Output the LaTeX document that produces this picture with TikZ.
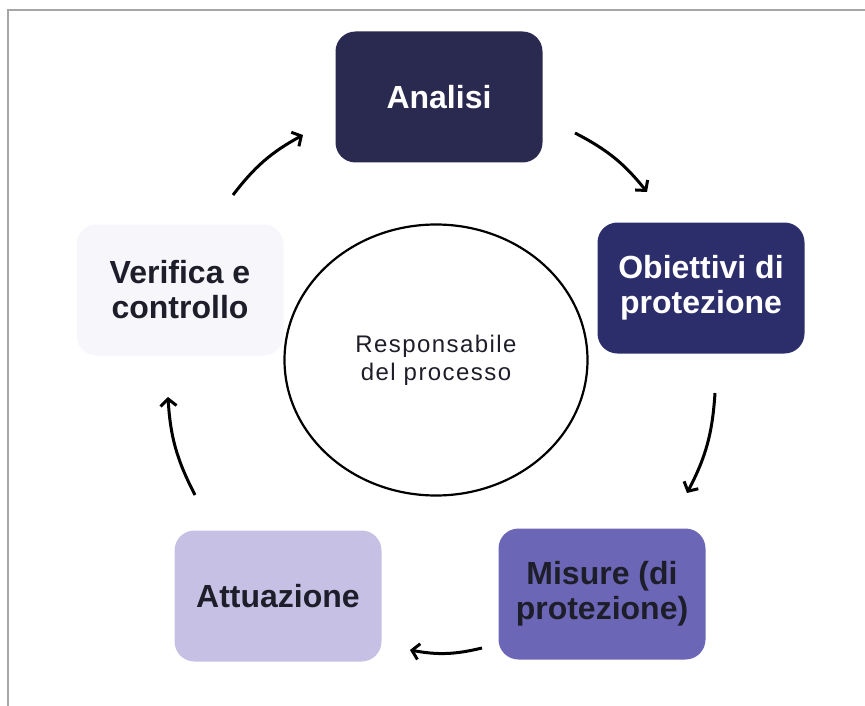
\documentclass[tikz,border=0pt]{standalone}
\usepackage{fontspec}
\setmainfont{Liberation Sans}
\newfontfamily\spacedfont[LetterSpace=6]{Liberation Sans}
\usetikzlibrary{arrows.meta,shapes.geometric}
\definecolor{analisiblue}{HTML}{2A2950}
\definecolor{obiettiviblue}{HTML}{2C2E6C}
\definecolor{misureblue}{HTML}{6B66B6}
\definecolor{attuazionelilac}{HTML}{C6C1E4}
\definecolor{verificagrey}{HTML}{F6F6FB}
\definecolor{boxtext}{HTML}{1E1E2A}
\begin{document}
\begin{tikzpicture}[x=1pt,y=-1pt,
    phase/.style={rounded corners=20pt,minimum width=207pt,minimum height=131pt,
      inner sep=0pt,align=center,font=\fontsize{32}{35}\selectfont\bfseries},
    cycle/.style={line width=3pt,-{Straight Barb[length=7pt,width=16pt]},bend left=12}]
  \useasboundingbox (0,0) rectangle (865,706);
  \draw[gray!70,line width=1.5pt] (8,706) -- (8,10) -- (865,10);
  \node[phase,fill=analisiblue,text=white] (analisi) at (439,97) {Analisi};
  \node[phase,fill=obiettiviblue,text=white] (obiettivi) at (701,288) {Obiettivi di\\protezione};
  \node[phase,fill=misureblue,text=boxtext] (misure) at (602,594) {Misure (di\\protezione)};
  \node[phase,fill=attuazionelilac,text=boxtext] (attuazione) at (278,596) {Attuazione};
  \node[phase,fill=verificagrey,text=boxtext] (verifica) at (180,290) {Verifica e\\controllo};
  \node[draw,ellipse,line width=2.2pt,minimum width=303pt,minimum height=271pt,
    align=center,text=boxtext,font=\spacedfont\fontsize{24}{28}\selectfont] (responsabile) at (436,360)
    {Responsabile\\del processo};
  \coordinate (verifica out) at (233,195);
  \coordinate (analisi in) at (303,135);
  \coordinate (analisi out) at (575,133);
  \coordinate (obiettivi in) at (647,192);
  \coordinate (obiettivi out) at (715,393);
  \coordinate (misure in) at (687,493);
  \coordinate (misure out) at (482,648);
  \coordinate (attuazione in) at (410,650);
  \coordinate (attuazione out) at (195,495);
  \coordinate (verifica in) at (168,397);
  \begin{scope}[cycle]
    \draw (verifica out) to (analisi in);
    \draw (analisi out) to (obiettivi in);
    \draw (obiettivi out) to (misure in);
    \draw (misure out) to (attuazione in);
    \draw (attuazione out) to (verifica in);
  \end{scope}
\end{tikzpicture}
\end{document}
